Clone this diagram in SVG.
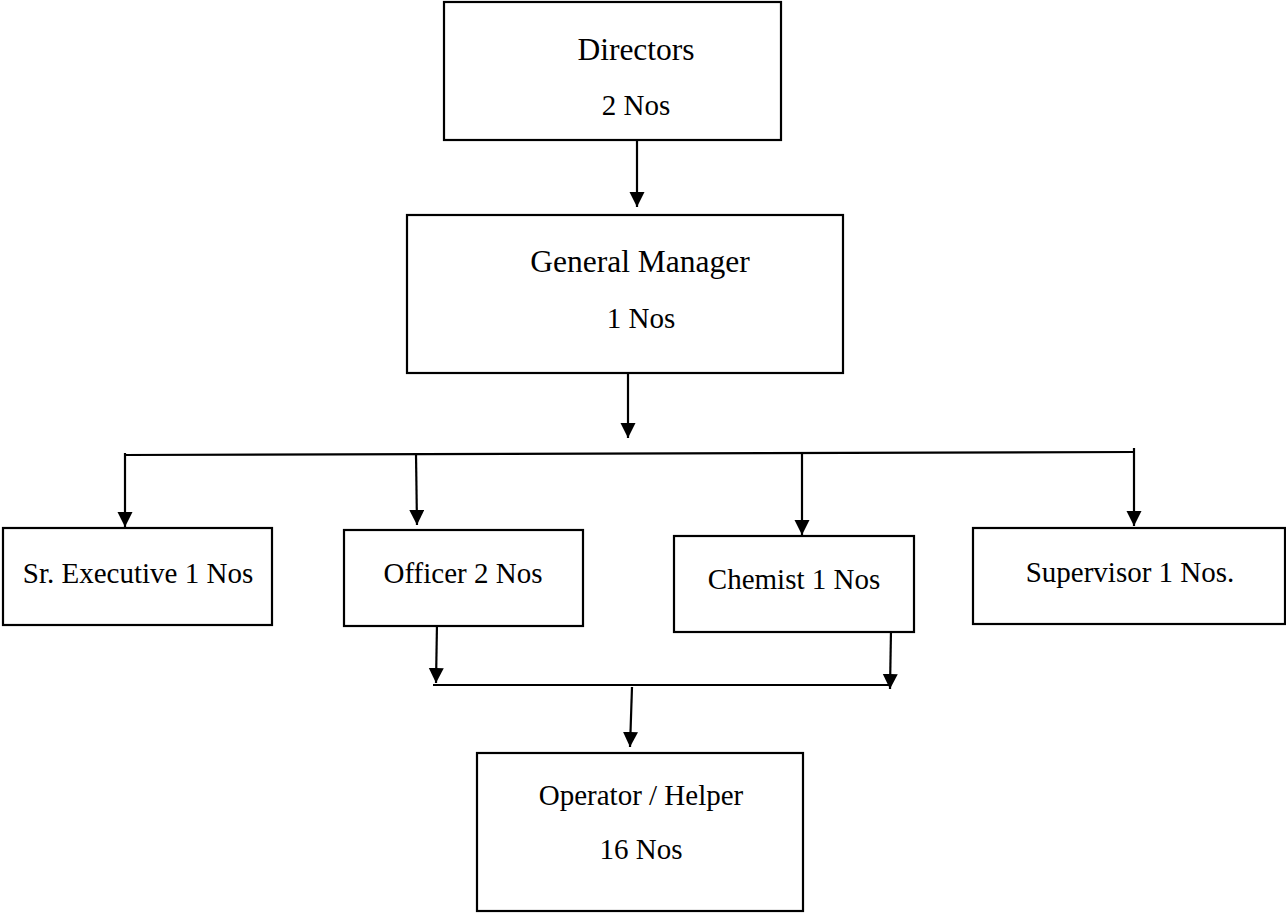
<svg xmlns="http://www.w3.org/2000/svg" width="1286" height="913" viewBox="0 0 1286 913">
<style>
.box{fill:#fff;stroke:#000;stroke-width:2.2}
.t{font-family:"Liberation Serif","Times New Roman",serif;fill:#000;text-anchor:middle}
.big{font-size:31.5px}
.sm{font-size:29px}
.c{stroke:#000;stroke-width:2.2;fill:none}
.a{marker-end:url(#ah)}
</style>
<defs>
<marker id="ah" markerUnits="userSpaceOnUse" markerWidth="16" markerHeight="16" refX="15" refY="7.5" orient="auto">
<path d="M0,0 L15,7.5 L0,15 Z" fill="#000"/>
</marker>
</defs>
<rect width="1286" height="913" fill="#fff"/>
<g id="connectors">
<line class="c a" x1="637" y1="140" x2="637" y2="207"/>
<line class="c a" x1="628" y1="369" x2="628" y2="438"/>
<line class="c" x1="124" y1="455" x2="1135" y2="452"/>
<line class="c a" x1="125" y1="453" x2="125" y2="527"/>
<line class="c a" x1="416" y1="454" x2="417" y2="525"/>
<line class="c a" x1="802" y1="453" x2="802" y2="535"/>
<line class="c a" x1="1134" y1="448" x2="1134" y2="526"/>
<line class="c a" x1="437" y1="623" x2="436" y2="683"/>
<line class="c a" x1="891" y1="630" x2="890" y2="689"/>
<line class="c" x1="433" y1="685" x2="890" y2="685"/>
<line class="c a" x1="632" y1="687" x2="630" y2="747"/>
</g>
<g id="directors">
<rect class="box" x="444" y="2" width="337" height="138"/>
<text class="t big" x="636" y="60">Directors</text>
<text class="t sm" x="636" y="115">2 Nos</text>
</g>
<g id="general-manager">
<rect class="box" x="407" y="215" width="436" height="158"/>
<text class="t big" x="640" y="272">General Manager</text>
<text class="t sm" x="641" y="328">1 Nos</text>
</g>
<g id="sr-executive">
<rect class="box" x="3" y="528" width="269" height="97"/>
<text class="t sm" x="138" y="583">Sr. Executive 1 Nos</text>
</g>
<g id="officer">
<rect class="box" x="344" y="530" width="239" height="96"/>
<text class="t sm" x="463" y="583">Officer 2 Nos</text>
</g>
<g id="chemist">
<rect class="box" x="674" y="536" width="240" height="96"/>
<text class="t sm" x="794" y="589">Chemist 1 Nos</text>
</g>
<g id="supervisor">
<rect class="box" x="973" y="528" width="312" height="96"/>
<text class="t sm" x="1130" y="582">Supervisor 1 Nos.</text>
</g>
<g id="operator-helper">
<rect class="box" x="477" y="753" width="326" height="158"/>
<text class="t sm" x="641" y="805">Operator / Helper</text>
<text class="t sm" x="641" y="859">16 Nos</text>
</g>
</svg>
